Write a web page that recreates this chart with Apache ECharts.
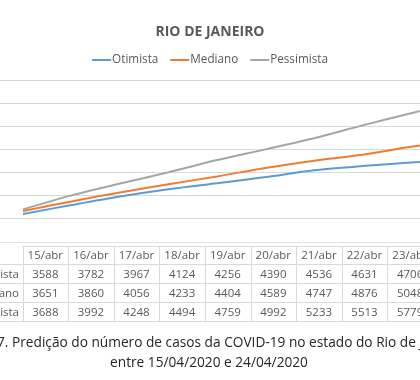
<!DOCTYPE html>
<html>
<head>
<meta charset="utf-8">
<script src="https://cdn.jsdelivr.net/npm/echarts@6/dist/echarts.min.js"></script>
<style>
html,body{margin:0;padding:0;background:#fff;}
#c{width:420px;height:380px;}
</style>
</head>
<body>
<div id="c"></div>
<script>
var categories = ['15/abr','16/abr','17/abr','18/abr','19/abr','20/abr','21/abr','22/abr','23/abr','24/abr'];
var seriesNames = ['Otimista','Mediano','Pessimista'];
var otimista   = [3588, 3782, 3967, 4124, 4256, 4390, 4536, 4631, 4706, 4780];
var mediano    = [3651, 3860, 4056, 4233, 4404, 4589, 4747, 4876, 5048, 5200];
var pessimista = [3688, 3992, 4248, 4494, 4759, 4992, 5233, 5513, 5779, 6040];
var titleText = 'RIO DE JANEIRO';
var captionLines = ['Figura 7. Predição do número de casos da COVID-19 no estado do Rio de Janeiro',
                    'entre 15/04/2020 e 24/04/2020'];

var colors = ['#5b9bd5','#ed7d31','#a5a5a5'];
var FONT = '"Open Sans", "Noto Sans", sans-serif';
var txtColor = '#595959';
var border = '#d9d9d9';

var colX0 = 22.5, colW = 45.6;
var rowB = [246, 264, 283, 302, 321];
var allValues = [otimista, mediano, pessimista];

var g = [];
g.push({type:'line', shape:{x1:0,y1:242.5,x2:420,y2:242.5}, style:{stroke:'#e3e3e3', lineWidth:1}, silent:true});
g.push({type:'line', shape:{x1:colX0,y1:rowB[0]+0.5,x2:colX0+colW*categories.length,y2:rowB[0]+0.5}, style:{stroke:border,lineWidth:1}, silent:true});
for (var r = 1; r < rowB.length; r++) {
  g.push({type:'line', shape:{x1:-80,y1:rowB[r]+0.5,x2:colX0+colW*categories.length,y2:rowB[r]+0.5}, style:{stroke:border,lineWidth:1}, silent:true});
}
for (var c = 0; c <= categories.length; c++) {
  var x = Math.round(colX0 + c*colW) + 0.5;
  g.push({type:'line', shape:{x1:x,y1:rowB[0],x2:x,y2:rowB[4]}, style:{stroke:border,lineWidth:1}, silent:true});
}
categories.forEach(function(cat, i){
  g.push({type:'text', silent:true, style:{text:cat, x:colX0 + (i+0.5)*colW, y:(rowB[0]+rowB[1])/2+1, textAlign:'center', textVerticalAlign:'middle', fill:txtColor, font:'11.5px '+FONT}});
});
seriesNames.forEach(function(name, r){
  var yc = (rowB[r+1]+rowB[r+2])/2 + 1;
  g.push({type:'text', silent:true, style:{text:name, x:19, y:yc, textAlign:'right', textVerticalAlign:'middle', fill:txtColor, font:'11.5px '+FONT}});
  allValues[r].forEach(function(v, i){
    g.push({type:'text', silent:true, style:{text:String(v), x:colX0 + (i+0.5)*colW, y:yc, textAlign:'center', textVerticalAlign:'middle', fill:txtColor, font:'11.5px '+FONT}});
  });
});
captionLines.forEach(function(line, i){
  g.push({type:'text', silent:true, style:{text:line, x:209, y:343 + i*20, textAlign:'center', textVerticalAlign:'middle', fill:'#262626', font:'13.7px '+FONT}});
});

var chart = echarts.init(document.getElementById('c'), null, {renderer:'canvas'});
chart.setOption({
  animation:false,
  backgroundColor:'#fff',
  textStyle:{fontFamily:FONT},
  title:{text:titleText, left:'center', top:20, textStyle:{fontSize:14, fontWeight:'bold', color:txtColor, fontFamily:FONT}},
  legend:{
    top:49, left:'center', icon:'rect', itemWidth:19, itemHeight:2, itemGap:12,
    textStyle:{fontSize:11.7, color:txtColor, fontFamily:FONT, padding:[0,0,0,-4]},
    data:seriesNames
  },
  grid:{left:-1.25, width:485, top:80, height:138, containLabel:false, outerBoundsMode:'none'},
  xAxis:{type:'category', data:categories, boundaryGap:true,
    axisLine:{show:true, lineStyle:{color:border}}, axisTick:{show:false}, axisLabel:{show:false}},
  yAxis:{type:'value', min:3500, max:6500, interval:500,
    axisLine:{show:false}, axisTick:{show:false}, axisLabel:{show:false},
    splitLine:{lineStyle:{color:border, width:1}}},
  series:[
    {name:seriesNames[0], type:'line', data:otimista, symbol:'none', smooth:0.3, lineStyle:{width:2, color:colors[0]}, itemStyle:{color:colors[0]}},
    {name:seriesNames[1], type:'line', data:mediano, symbol:'none', smooth:0.3, lineStyle:{width:2, color:colors[1]}, itemStyle:{color:colors[1]}},
    {name:seriesNames[2], type:'line', data:pessimista, symbol:'none', smooth:0.3, lineStyle:{width:2, color:colors[2]}, itemStyle:{color:colors[2]}}
  ],
  graphic:g
});
</script>
</body>
</html>
